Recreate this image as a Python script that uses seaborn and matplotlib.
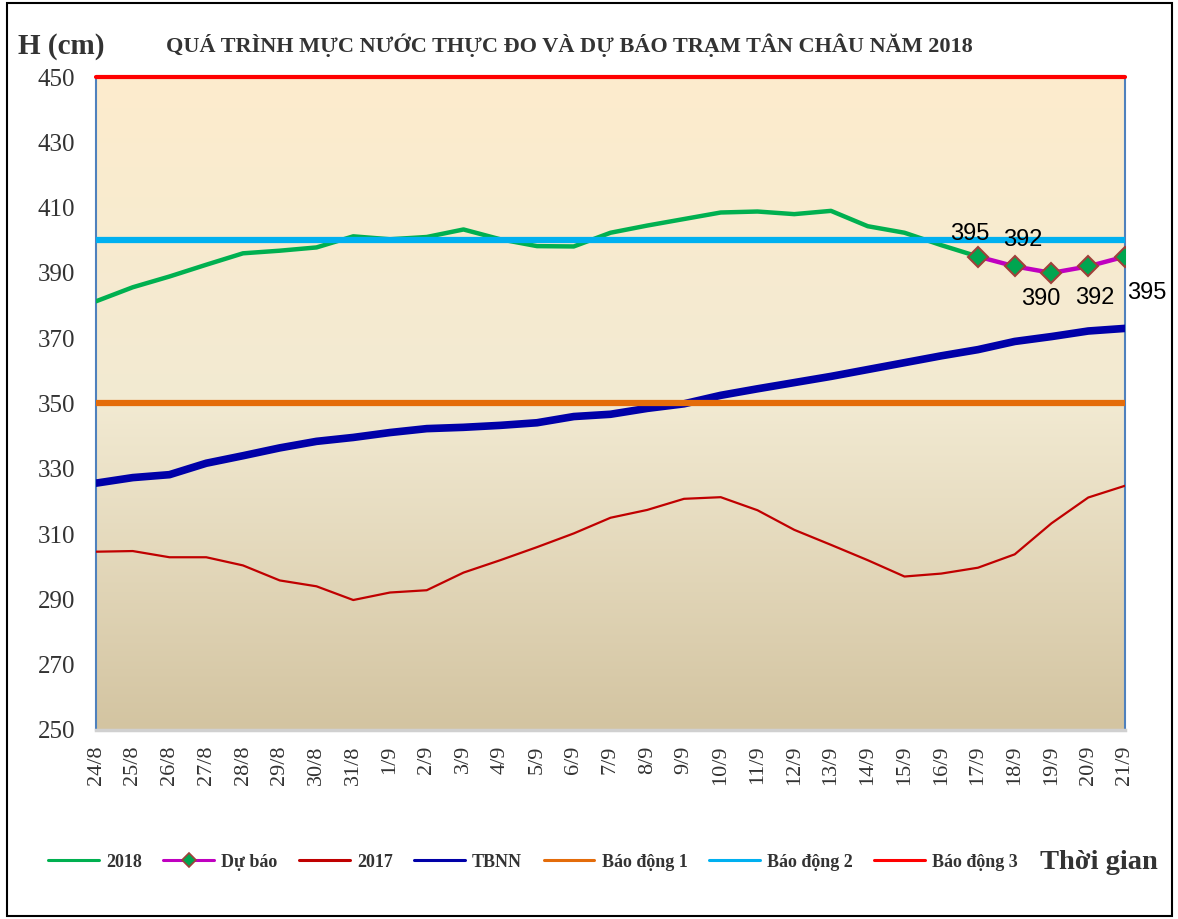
import numpy as np
import pandas as pd
import matplotlib.pyplot as plt
from matplotlib.colors import LinearSegmentedColormap
from matplotlib.patches import Rectangle
from matplotlib.lines import Line2D
import seaborn as sns

# Data (water level, cm)
dates = ["24/8", "25/8", "26/8", "27/8", "28/8", "29/8", "30/8", "31/8",
         "1/9", "2/9", "3/9", "4/9", "5/9", "6/9", "7/9", "8/9", "9/9", "10/9",
         "11/9", "12/9", "13/9", "14/9", "15/9", "16/9", "17/9", "18/9", "19/9",
         "20/9", "21/9"]

h2018 = [381.3, 385.6, 388.9, 392.5, 396.0, 396.8, 397.8, 401.2, 400.3, 401.0,
         403.3, 400.3, 398.2, 398.1, 402.3, 404.5, 406.5, 408.5, 408.8, 408.0,
         409.0, 404.3, 402.3, 398.5, 395.0]

forecast_dates = ["17/9", "18/9", "19/9", "20/9", "21/9"]
forecast = [395, 392, 390, 392, 395]

h2017 = [304.6, 304.8, 302.9, 302.9, 300.4, 295.8, 294.0, 289.8, 292.1, 292.8,
         298.2, 302.0, 306.0, 310.2, 315.0, 317.4, 320.8, 321.3, 317.3, 311.3,
         306.7, 302.0, 297.0, 297.9, 299.7, 303.8, 313.3, 321.2, 324.8]

tbnn = [325.6, 327.3, 328.2, 331.7, 334.0, 336.4, 338.4, 339.6, 341.1, 342.3,
        342.7, 343.3, 344.1, 346.0, 346.7, 348.5, 349.9, 352.5, 354.5, 356.4,
        358.3, 360.4, 362.5, 364.6, 366.5, 369.0, 370.5, 372.2, 373.0]

bao_dong_1 = 350
bao_dong_2 = 400
bao_dong_3 = 450

yticks = list(range(250, 451, 20))

# build tables
pos = {d: i for i, d in enumerate(dates)}
df2018 = pd.DataFrame({"x": [pos[d] for d in dates[:len(h2018)]], "H": h2018})
dffc = pd.DataFrame({"x": [pos[d] for d in forecast_dates], "H": forecast})
df2017 = pd.DataFrame({"x": [pos[d] for d in dates], "H": h2017})
dftb = pd.DataFrame({"x": [pos[d] for d in dates], "H": tbnn})

sns.set_style("white")
plt.rcParams["font.family"] = ["Liberation Serif", "DejaVu Serif"]

fig = plt.figure(figsize=(11.78, 9.19), dpi=100)
ax = fig.add_axes([0.0815, 0.2057, 0.8735, 0.7105])

# background gradient
cmap = LinearSegmentedColormap.from_list(
    "bg", [(0.0, (211/255, 196/255, 161/255)),
           (0.5, (242/255, 234/255, 210/255)),
           (1.0, (253/255, 236/255, 205/255))])
grad = np.linspace(0, 1, 256).reshape(-1, 1)
ax.imshow(grad, extent=[0, len(dates) - 1, 250, 450], origin="lower",
          aspect="auto", cmap=cmap, zorder=0)

c2018, cfc, c2017, ctb = "#00B050", "#C000C0", "#C00000", "#0000A8"
cb1, cb2, cb3 = "#E46C0A", "#00B0F0", "#FF0000"

sns.lineplot(data=df2018, x="x", y="H", ax=ax, color=c2018, lw=3.2, zorder=3)
sns.lineplot(data=dffc, x="x", y="H", ax=ax, color=cfc, lw=3.2,
             marker="D", markersize=10, markerfacecolor="#00A550",
             markeredgecolor="#A0403A", markeredgewidth=1.5, zorder=6)
sns.lineplot(data=df2017, x="x", y="H", ax=ax, color=c2017, lw=1.6, zorder=3)
sns.lineplot(data=dftb, x="x", y="H", ax=ax, color=ctb, lw=5.5, zorder=3)
ax.axhline(bao_dong_1, color=cb1, lw=4.5, zorder=4)
ax.axhline(bao_dong_2, color=cb2, lw=4.5, zorder=4)
ax.axhline(bao_dong_3, color=cb3, lw=3, zorder=4, clip_on=False)

# forecast labels
offsets = [(-6, 16), (6, 19), (-8, -19), (5, -23), (16, -26)]
for i, (d, v) in enumerate(zip(forecast_dates, forecast)):
    ax.annotate(str(v), (pos[d], v), xytext=offsets[i], textcoords="offset points",
                ha="center", va="center", fontsize=17, color="black",
                family=["Liberation Sans", "DejaVu Sans"], zorder=7,
                annotation_clip=False)

ax.set_xlim(0, len(dates) - 1)
ax.set_ylim(250, 450)
ax.set_yticks(yticks)
ax.set_yticklabels([str(t) for t in yticks], fontsize=18, color="#333333")
ax.set_xticks(range(len(dates)))
ax.set_xticklabels(dates, rotation=90, fontsize=16, color="#333333")
ax.tick_params(axis="y", length=0, pad=15)
ax.tick_params(axis="x", length=0, pad=11)
ax.set_xlabel("")
ax.set_ylabel("")

for s in ["left", "right"]:
    ax.spines[s].set_color("#4F81BD")
    ax.spines[s].set_linewidth(1.5)
ax.spines["top"].set_visible(False)
ax.spines["bottom"].set_color("#D0D0D0")
ax.spines["bottom"].set_linewidth(2.5)

# legend with thin handles like the original
series_names = ["2018", "Dự báo", "2017", "TBNN", "Báo động 1", "Báo động 2", "Báo động 3"]
handles = [Line2D([], [], color=c2018, lw=2.2),
           Line2D([], [], color=cfc, lw=2.2, marker="D", markersize=7,
                  markerfacecolor="#00A550", markeredgecolor="#A0403A",
                  markeredgewidth=1.2),
           Line2D([], [], color=c2017, lw=2.2),
           Line2D([], [], color=ctb, lw=2.2),
           Line2D([], [], color=cb1, lw=2.2),
           Line2D([], [], color=cb2, lw=2.2),
           Line2D([], [], color=cb3, lw=2.2)]
fig.legend(handles, series_names, loc="center left", bbox_to_anchor=(0.027, 0.062),
           ncol=7, frameon=False, handlelength=2.8, handletextpad=0.4,
           columnspacing=1.2, prop={"family": "Liberation Serif", "weight": "bold",
                                     "size": 13},
           labelcolor="#333333")

fig.text(0.483, 0.951, "QUÁ TRÌNH MỰC NƯỚC THỰC ĐO VÀ DỰ BÁO TRẠM TÂN CHÂU NĂM 2018",
         ha="center", va="center", fontsize=16, fontweight="bold", color="#333333")
fig.text(0.015, 0.949, "H (cm)", ha="left", va="center", fontsize=21,
         fontweight="bold", color="#333333")
fig.text(0.883, 0.061, "Thời gian", ha="left", va="center", fontsize=20.5,
         fontweight="bold", color="#333333")

fig.patches.append(Rectangle((0.006, 0.003), 0.989, 0.994, transform=fig.transFigure,
                             fill=False, edgecolor="black", lw=1.5))

fig.savefig("out.png", dpi=100)
